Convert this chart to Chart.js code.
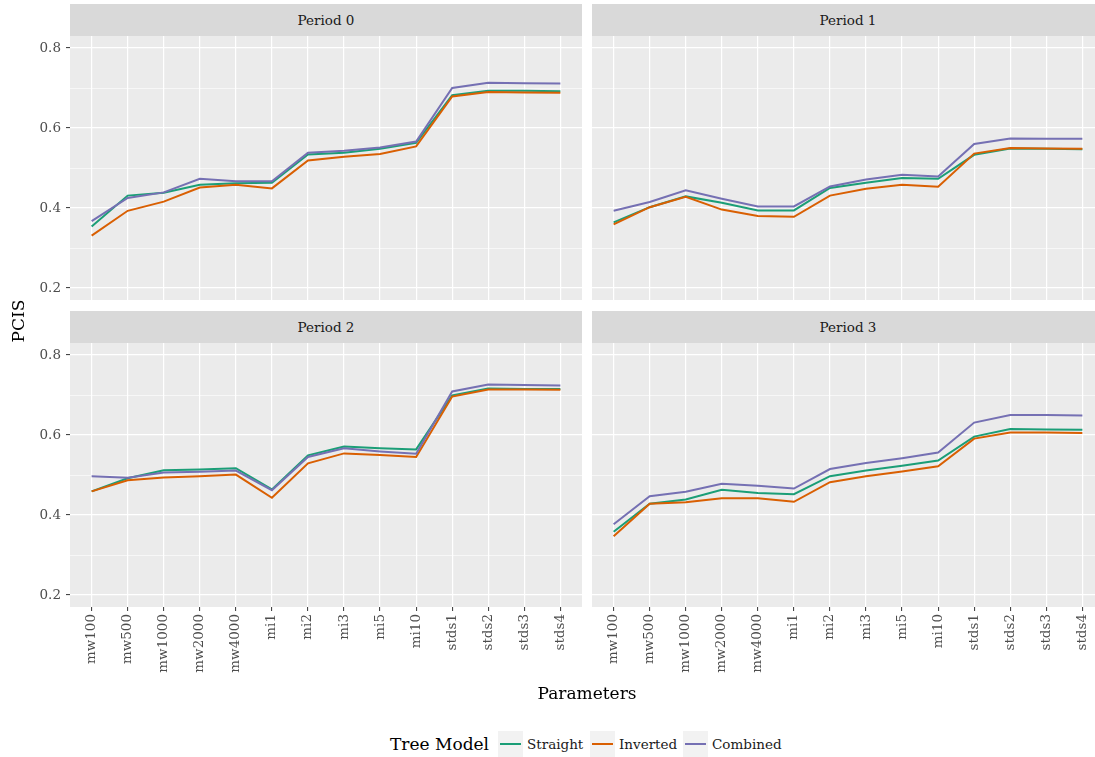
<!DOCTYPE html>
<html>
<head>
<meta charset="utf-8">
<script src="https://cdn.jsdelivr.net/npm/chart.js@4.4.1/dist/chart.umd.min.js"></script>
<style>
  html, body { margin: 0; padding: 0; background: #fff; overflow: hidden; width: 1095px; height: 757px; }
  body { position: relative; font-family: 'DejaVu Serif', serif; }
  canvas { position: absolute; }
  .strip { position: absolute; width: 512px; height: 32px; background: #d9d9d9; color: #1a1a1a;
           font-size: 13.5px; text-align: center; line-height: 32px; }
  .txt { position: absolute; white-space: nowrap; color: #000; }
  .key { position: absolute; top: 731px; width: 25px; height: 26px; background: #f2f2f2; }
  .key div { position: absolute; left: 2px; right: 2px; top: 12px; height: 2px; }
  .lab { position: absolute; top: 735px; font-size: 13.5px; line-height: 18px; color: #1a1a1a; }
</style>
</head>
<body>

<div class="strip" style="left:70px; top:4px;">Period 0</div>
<div class="strip" style="left:592px; top:4px;">Period 1</div>
<div class="strip" style="left:70px; top:311px;">Period 2</div>
<div class="strip" style="left:592px; top:311px;">Period 3</div>

<canvas id="p0" width="582" height="264" style="left:0; top:36px;"></canvas>
<canvas id="p1" width="512" height="264" style="left:592px; top:36px;"></canvas>
<canvas id="p2" width="582" height="355" style="left:0; top:343px;"></canvas>
<canvas id="p3" width="512" height="355" style="left:592px; top:343px;"></canvas>

<div class="txt" style="left:-7px; top:310px; width:50px; font-size:17px; line-height:22px; text-align:center; transform:rotate(-90deg);">PCIS</div>
<div class="txt" style="left:487px; top:681px; width:200px; font-size:17px; line-height:24px; text-align:center;">Parameters</div>

<div class="txt" style="left:390px; top:733px; font-size:17px; line-height:22px;">Tree Model</div>
<div class="key" style="left:498px;"><div style="background:#1B9E77"></div></div>
<div class="lab" style="left:527px;">Straight</div>
<div class="key" style="left:590px;"><div style="background:#D95F02"></div></div>
<div class="lab" style="left:619px;">Inverted</div>
<div class="key" style="left:683px;"><div style="background:#7570B3"></div></div>
<div class="lab" style="left:712px;">Combined</div>

<script>
// categories on the x axis
var params = ['mw100', 'mw500', 'mw1000', 'mw2000', 'mw4000', 'mi1', 'mi2', 'mi3', 'mi5', 'mi10', 'stds1', 'stds2', 'stds3', 'stds4'];
var seriesNames = ['Straight', 'Inverted', 'Combined'];
var colors = ['#1B9E77', '#D95F02', '#7570B3'];

// y ticks: labelled ones and minor grid lines
var yMajor = [0.2, 0.4, 0.6, 0.8];
var yMinor = [0.3, 0.5, 0.7];

// PCIS per period
var p0Straight = [0.354, 0.431, 0.438, 0.458, 0.462, 0.463, 0.534, 0.538, 0.548, 0.563, 0.682, 0.693, 0.693, 0.692];
var p0Inverted = [0.331, 0.393, 0.416, 0.451, 0.458, 0.449, 0.519, 0.528, 0.535, 0.554, 0.679, 0.690, 0.689, 0.688];
var p0Combined = [0.367, 0.425, 0.439, 0.473, 0.467, 0.467, 0.538, 0.543, 0.551, 0.566, 0.700, 0.713, 0.712, 0.711];

var p1Straight = [0.364, 0.402, 0.429, 0.413, 0.394, 0.394, 0.450, 0.463, 0.475, 0.473, 0.533, 0.549, 0.548, 0.547];
var p1Inverted = [0.359, 0.402, 0.428, 0.396, 0.380, 0.378, 0.431, 0.448, 0.458, 0.453, 0.536, 0.550, 0.549, 0.548];
var p1Combined = [0.393, 0.415, 0.444, 0.423, 0.404, 0.404, 0.454, 0.471, 0.483, 0.479, 0.560, 0.574, 0.573, 0.573];

var p2Straight = [0.459, 0.492, 0.512, 0.514, 0.517, 0.464, 0.549, 0.571, 0.567, 0.564, 0.699, 0.716, 0.715, 0.715];
var p2Inverted = [0.459, 0.487, 0.494, 0.497, 0.501, 0.443, 0.529, 0.554, 0.550, 0.545, 0.696, 0.714, 0.714, 0.713];
var p2Combined = [0.497, 0.493, 0.506, 0.508, 0.511, 0.462, 0.545, 0.567, 0.559, 0.553, 0.709, 0.726, 0.725, 0.724];

var p3Straight = [0.358, 0.428, 0.439, 0.463, 0.455, 0.452, 0.497, 0.511, 0.523, 0.536, 0.596, 0.615, 0.614, 0.613];
var p3Inverted = [0.347, 0.428, 0.432, 0.442, 0.442, 0.433, 0.482, 0.497, 0.509, 0.522, 0.591, 0.606, 0.606, 0.605];
var p3Combined = [0.377, 0.447, 0.458, 0.478, 0.473, 0.466, 0.515, 0.530, 0.542, 0.556, 0.631, 0.650, 0.650, 0.649];

Chart.defaults.font.family = "'DejaVu Serif', serif";

function isMajor(v) {
  return yMajor.some(function (m) { return Math.abs(m - v) < 1e-6; });
}

// grey panel background like ggplot
var panelBg = {
  id: 'panelBg',
  beforeDraw: function (chart) {
    var a = chart.chartArea;
    var ctx = chart.ctx;
    ctx.save();
    ctx.fillStyle = '#ebebeb';
    ctx.fillRect(a.left, a.top, a.right - a.left, a.bottom - a.top);
    ctx.restore();
  }
};

function makePanel(id, series, showX, showY) {
  var datasets = series.map(function (vals, k) {
    return {
      label: seriesNames[k],
      data: vals.map(function (v, i) { return { x: i, y: v }; }),
      borderColor: colors[k],
      borderWidth: 2,
      pointRadius: 0,
      tension: 0,
      fill: false,
      order: 2 - k   // Combined drawn last
    };
  });

  return new Chart(document.getElementById(id), {
    type: 'line',
    data: { datasets: datasets },
    options: {
      responsive: false,
      animation: false,
      events: [],
      layout: { padding: 0 },
      plugins: { legend: { display: false }, tooltip: { enabled: false } },
      scales: {
        x: {
          type: 'linear',
          min: -0.6,
          max: 13.6,
          afterBuildTicks: function (s) {
            s.ticks = params.map(function (p, i) { return { value: i }; });
          },
          afterFit: function (s) {
            s.height = showX ? 91 : 0;
            s.paddingLeft = 0;
            s.paddingRight = 0;
          },
          border: { display: false },
          grid: { color: '#ffffff', lineWidth: 1.2, drawTicks: showX, tickLength: 4, tickColor: '#333333', tickWidth: 1 },
          ticks: {
            display: showX,
            autoSkip: false,
            minRotation: 90,
            maxRotation: 90,
            padding: 3,
            color: '#4d4d4d',
            font: { size: 13.5 },
            callback: function (v) { return params[v]; }
          }
        },
        y: {
          min: 0.17,
          max: 0.83,
          afterBuildTicks: function (s) {
            s.ticks = yMajor.concat(yMinor).sort().map(function (v) { return { value: v }; });
          },
          afterFit: function (s) {
            s.width = showY ? 70 : 0;
            s.paddingTop = 0;
            s.paddingBottom = 0;
          },
          border: { display: false },
          grid: {
            color: '#ffffff',
            lineWidth: function (c) { return isMajor(c.tick.value) ? 1.2 : 0.6; },
            drawTicks: showY,
            tickLength: 4,
            tickWidth: 1,
            tickColor: function (c) { return isMajor(c.tick.value) ? '#333333' : 'rgba(0,0,0,0)'; }
          },
          ticks: {
            display: showY,
            padding: 5,
            color: '#4d4d4d',
            font: { size: 13.5 },
            callback: function (v) { return isMajor(v) ? v.toFixed(1) : ''; }
          }
        }
      }
    },
    plugins: [panelBg]
  });
}

makePanel('p0', [p0Straight, p0Inverted, p0Combined], false, true);
makePanel('p1', [p1Straight, p1Inverted, p1Combined], false, false);
makePanel('p2', [p2Straight, p2Inverted, p2Combined], true, true);
makePanel('p3', [p3Straight, p3Inverted, p3Combined], true, false);
</script>
</body>
</html>
